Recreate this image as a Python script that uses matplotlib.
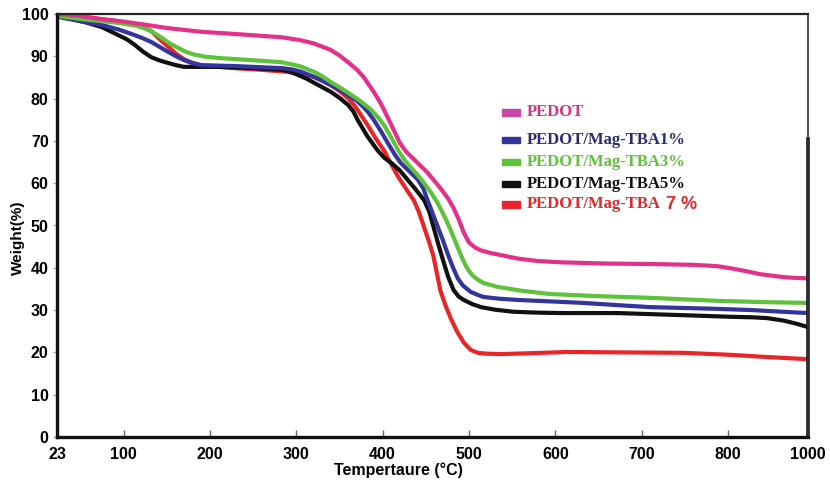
import numpy as np
import matplotlib
matplotlib.use("Agg")
import matplotlib.pyplot as plt
from matplotlib.patches import Rectangle
from matplotlib.font_manager import FontProperties

# ---------------- data ----------------
t_pedot = [23, 35, 48, 75, 100, 121, 150, 190, 220, 248, 283, 305, 321, 340, 350, 360, 370, 378, 390, 398, 406, 413, 420, 427, 437, 452, 467, 476, 482, 488, 494, 500, 507, 514, 525, 537, 556, 580, 606, 660, 710, 760, 787, 812, 840, 880, 938, 970, 1000]
w_pedot = [100, 99.9, 99.6, 98.8, 98.2, 97.6, 96.7, 95.8, 95.4, 95.0, 94.5, 93.8, 93.0, 91.5, 90.2, 88.6, 86.9, 85.1, 81.5, 78.8, 75.5, 72.5, 69.5, 67.5, 65.5, 62.5, 58.8, 56.3, 54.2, 51.5, 48.3, 46.0, 44.8, 44.1, 43.5, 43.0, 42.2, 41.6, 41.3, 41.0, 40.9, 40.7, 40.4, 39.8, 39.3, 38.5, 37.8, 37.6, 37.5]

t_tba1 = [23, 28, 50, 75, 95, 113, 122, 132, 142, 152, 161, 170, 180, 190, 210, 228, 283, 295, 305, 321, 330, 340, 350, 360, 370, 378, 384, 390, 398, 406, 414, 421, 431, 441, 447, 452, 458, 464, 470, 475, 481, 487, 493, 502, 510, 517, 535, 556, 600, 632, 670, 710, 787, 860, 938, 1000]
w_tba1 = [100, 99.2, 98.3, 97.4, 96.3, 95.0, 94.3, 93.4, 92.2, 91.0, 90.0, 89.1, 88.4, 87.9, 87.8, 87.7, 87.2, 86.9, 86.4, 85.1, 84.2, 83.2, 82.1, 80.9, 79.5, 78.0, 76.6, 74.9, 72.3, 69.5, 66.8, 64.8, 62.8, 60.8, 58.8, 56.0, 52.8, 49.6, 46.4, 43.5, 40.3, 37.5, 35.8, 34.3, 33.6, 33.1, 32.7, 32.4, 32.0, 31.7, 31.2, 30.7, 30.3, 30.0, 29.6, 29.3]

t_tba3 = [23, 28, 55, 94, 115, 124, 134, 144, 154, 164, 173, 182, 195, 210, 248, 283, 295, 305, 321, 330, 340, 350, 360, 373, 386, 395, 402, 410, 418, 425, 433, 441, 448, 456, 464, 472, 479, 485, 490, 495, 499, 505, 511, 517, 533, 560, 594, 650, 710, 787, 880, 1000]
w_tba3 = [100, 99.4, 98.7, 97.9, 97.2, 96.7, 95.7, 94.4, 93.0, 91.9, 91.0, 90.4, 89.9, 89.6, 89.1, 88.6, 88.1, 87.6, 86.3, 85.3, 83.9, 82.7, 81.4, 79.6, 77.5, 75.5, 73.6, 70.8, 67.8, 65.6, 63.6, 61.8, 60.0, 57.8, 55.2, 52.0, 48.8, 45.8, 43.3, 41.0, 39.5, 38.0, 37.1, 36.4, 35.5, 34.6, 33.8, 33.3, 32.9, 32.2, 31.9, 31.7]

t_tba5 = [23, 28, 40, 55, 75, 94, 104, 113, 122, 132, 142, 152, 161, 170, 190, 210, 250, 283, 292, 302, 312, 321, 330, 340, 350, 360, 366, 371, 382, 394, 402, 410, 420, 429, 438, 448, 454, 459, 465, 471, 476, 482, 488, 494, 504, 514, 530, 552, 580, 606, 672, 748, 812, 860, 898, 940, 970, 1000]
w_tba5 = [100, 99.2, 98.8, 98.1, 96.9, 95.0, 94.0, 92.7, 91.2, 89.8, 89.0, 88.4, 87.9, 87.5, 87.5, 87.5, 87.2, 86.8, 86.4, 85.6, 84.7, 83.7, 82.7, 81.6, 80.2, 78.5, 77.0, 75.0, 71.2, 67.8, 66.0, 64.8, 63.0, 60.8, 58.6, 56.0, 53.3, 49.6, 45.2, 41.1, 37.8, 34.8, 33.2, 32.4, 31.4, 30.7, 30.1, 29.6, 29.4, 29.3, 29.3, 28.8, 28.4, 28.3, 28.1, 27.5, 26.8, 26.0]

t_tba7 = [23, 40, 55, 94, 115, 132, 142, 152, 161, 170, 180, 190, 210, 228, 260, 291, 305, 321, 330, 340, 350, 360, 368, 375, 383, 392, 402, 410, 418, 427, 436, 442, 448, 454, 459, 463, 467, 473, 479, 486, 494, 502, 510, 520, 537, 570, 614, 680, 748, 812, 880, 938, 1000]
w_tba7 = [100, 99.6, 99.2, 98.3, 97.5, 96.0, 94.0, 92.2, 90.6, 89.3, 88.4, 87.9, 87.5, 87.2, 86.8, 86.3, 85.8, 85.1, 84.3, 83.2, 81.8, 80.1, 78.2, 76.1, 73.6, 70.6, 67.6, 64.5, 61.5, 58.7, 56.0, 53.2, 49.6, 46.0, 42.6, 38.5, 34.5, 31.0, 28.0, 25.0, 22.3, 20.6, 19.9, 19.7, 19.6, 19.8, 20.1, 20.0, 19.9, 19.4, 19.0, 18.7, 18.4]

x_ticks = [23, 100, 200, 300, 400, 500, 600, 700, 800, 1000]
y_ticks = [0, 10, 20, 30, 40, 50, 60, 70, 80, 90, 100]

labels = ["PEDOT", "PEDOT/Mag-TBA1%", "PEDOT/Mag-TBA3%", "PEDOT/Mag-TBA5%", "PEDOT/Mag-TBA"]
colors = ["#E5308A", "#34349E", "#5EC23A", "#111111", "#E8262A"]
text_colors = ["#D8307F", "#2C2A70", "#5EC23A", "#111111", "#E02828"]

# ---------------- figure ----------------
fig = plt.figure(figsize=(8.30, 4.82), dpi=100)
ax = fig.add_axes([57/830, 45/482, (808-57)/830, (437-14)/482])

def fwd(t):
    t = np.asarray(t, dtype=float)
    return np.where(t <= 800, t, 800 + (t - 800) * 0.4625)

def inv(u):
    u = np.asarray(u, dtype=float)
    return np.where(u <= 800, u, 800 + (u - 800) / 0.4625)

ax.set_xscale('function', functions=(fwd, inv))

series = [(t_tba7, w_tba7, colors[4]), (t_tba5, w_tba5, colors[3]),
          (t_tba1, w_tba1, colors[1]), (t_tba3, w_tba3, colors[2]),
          (t_pedot, w_pedot, colors[0])]
for t, w, c in series:
    ax.plot(t, w, color=c, lw=3.0, solid_capstyle='round', solid_joinstyle='round')

ax.set_xlim(23, 1000)
ax.set_ylim(0, 100)
ax.set_xticks(x_ticks)
ax.set_xticklabels([str(v) for v in x_ticks])
ax.set_yticks(y_ticks)
ax.set_yticklabels([str(v) for v in y_ticks])

tick_fp = FontProperties(family=['Liberation Sans', 'DejaVu Sans'], weight='bold', size=11.5)
for lab in ax.get_xticklabels() + ax.get_yticklabels():
    lab.set_fontproperties(tick_fp)

ax.tick_params(axis='x', direction='in', length=5, width=1, color='#666666', pad=7)
ax.tick_params(axis='y', direction='out', length=3, width=1, color='#aaaaaa', pad=3)

for s in ['left', 'bottom']:
    ax.spines[s].set_linewidth(2.4)
    ax.spines[s].set_color('#111111')
ax.spines['top'].set_linewidth(1.6)
ax.spines['top'].set_color('#222222')
ax.spines['right'].set_linewidth(1.2)
ax.spines['right'].set_color('#333333')
ax.plot([1, 1], [0, 0.705], transform=ax.transAxes, color='#111111', lw=2.6, clip_on=False)

ax.set_xlabel("Tempertaure (°C)", fontsize=11.5, fontweight='bold',
              family=['Liberation Sans Narrow', 'Liberation Sans', 'DejaVu Sans'])
ax.xaxis.set_label_coords(0.454, -0.060)
ax.set_ylabel("Weight(%)", fontsize=11, fontweight='bold',
              family=['Liberation Sans', 'DejaVu Sans'])
ax.yaxis.set_label_coords(-0.042, 0.47)

# ---------------- legend (manual, as in the figure) ----------------
leg_y = [76.8, 70.2, 65.0, 59.8, 55.0]
serif = ['Liberation Serif', 'DejaVu Serif']
for i, (lab, c, tc, yy) in enumerate(zip(labels, colors, text_colors, leg_y)):
    ax.add_patch(Rectangle((0.5925, (yy - 0.8) / 100), 0.0235, 0.016, transform=ax.transAxes,
                           color=c if i != 0 else '#C847A8', clip_on=False))
    txt = ax.text(0.626, yy / 100, lab, transform=ax.transAxes, color=tc, fontsize=12,
                  fontweight='bold', family=serif, va='center', ha='left')
    if i == 4:
        fig.canvas.draw()
        bb = txt.get_window_extent()
        x_end = ax.transAxes.inverted().transform((bb.x1, bb.y0))[0]
        ax.text(x_end + 0.006, yy / 100, "7 %", transform=ax.transAxes, color=tc,
                fontsize=13, fontweight='bold', family=['Liberation Sans', 'DejaVu Sans'],
                va='center', ha='left')

fig.savefig("out.png", dpi=100)
